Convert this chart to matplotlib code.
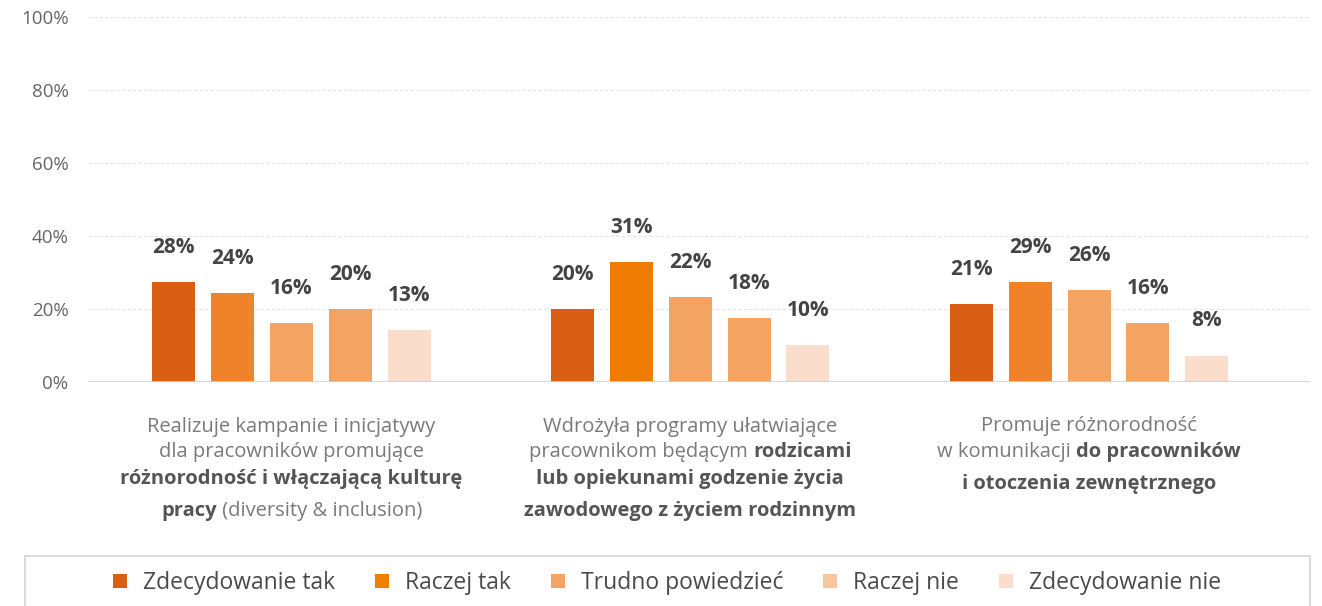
import numpy as np
import matplotlib
matplotlib.use('Agg')
import matplotlib.pyplot as plt
from matplotlib.patches import Patch, Rectangle

matplotlib.rcParams['font.family'] = ['Open Sans', 'DejaVu Sans']

series = ['Zdecydowanie tak', 'Raczej tak', 'Trudno powiedzieć', 'Raczej nie', 'Zdecydowanie nie']
legend_colors = ['#DA5F15', '#F07F00', '#F3A462', '#F9C59F', '#FBDDCB']
bar_colors = ['#DA5F15', '#F0822A', '#F3A462', '#F3A462', '#FADDCB']

# bar heights as drawn (%), one row per group
heights = [
    [27.4, 24.4, 16.2, 20.0, 14.2],
    [20.0, 32.9, 23.3, 17.6, 10.2],
    [21.4, 27.4, 25.2, 16.2, 7.2],
]
# printed labels
labels = [
    [28, 24, 16, 20, 13],
    [20, 31, 22, 18, 10],
    [21, 29, 26, 16, 8],
]
# group 2 second bar is a deeper orange
color_override = {(1, 1): '#EF7B00'}

# category descriptions: list of lines, each line a list of (text, bold)
categories = [
    [[('Realizuje kampanie i inicjatywy', False)],
     [('dla pracowników promujące', False)],
     [('różnorodność i włączającą kulturę', True)],
     [('pracy', True), (' (diversity & inclusion)', False)]],
    [[('Wdrożyła programy ułatwiające', False)],
     [('pracownikom będącym ', False), ('rodzicami', True)],
     [('lub opiekunami godzenie życia', True)],
     [('zawodowego z życiem rodzinnym', True)]],
    [[('Promuje różnorodność', False)],
     [('w komunikacji ', False), ('do pracowników', True)],
     [('i otoczenia zewnętrznego', True)]],
]
line_y = [[427, 452, 479, 511], [427, 452, 479, 511], [426, 452, 484]]

yticks = [0, 20, 40, 60, 80, 100]

W, H = 1322, 606
fig = plt.figure(figsize=(W / 100, H / 100), dpi=100)
ax = fig.add_axes([88 / W, 1 - 382 / H, (1310 - 88) / W, (382 - 17) / H])

width = 0.108
step = 0.1475
x = np.arange(len(heights))
for g in range(len(heights)):
    for i in range(len(series)):
        xi = x[g] + (i - 2) * step
        c = color_override.get((g, i), bar_colors[i])
        ax.bar(xi, heights[g][i], width, color=c, zorder=2)
        ax.annotate('%d%%' % labels[g][i], (xi, heights[g][i]), xytext=(0, 25),
                    textcoords='offset points', ha='center', va='center',
                    fontsize=15, fontweight='bold', color='#444444')

ax.set_xlim(-0.51, 2.554)
ax.set_ylim(0, 100)
ax.set_yticks(yticks)
ax.set_yticklabels(['%d%%' % t for t in yticks], fontsize=13.5, color='#666666')
ax.tick_params(axis='y', length=0, pad=14)
ax.set_xticks([])
for s in ax.spines.values():
    s.set_visible(False)
ax.yaxis.grid(True, color='#E2E2E2', linestyle=(0, (3, 2)), linewidth=0.8, zorder=0)
ax.axhline(0, color='#D0D0D0', linewidth=1.2, zorder=3)

# category descriptions with mixed weights
fig.canvas.draw()
r = fig.canvas.get_renderer()
for g, lines in enumerate(categories):
    cx = ax.transData.transform((x[g], 0))[0]
    for li, segs in enumerate(lines):
        ypx = H - line_y[g][li]
        texts = []
        for txt, bold in segs:
            t = fig.text(0, ypx / H, txt, fontsize=14.5, va='center', ha='left',
                         fontweight='bold' if bold else 'normal',
                         color='#555555' if bold else '#7A7A7A')
            texts.append(t)
        widths = [t.get_window_extent(r).width for t in texts]
        start = cx - sum(widths) / 2
        for t, w in zip(texts, widths):
            t.set_x(start / W)
            start += w

# legend box running off the bottom edge
fig.patches.append(Rectangle((25 / W, -0.05), (1310 - 25) / W, (606 - 556) / H + 0.05,
                             transform=fig.transFigure, facecolor='white',
                             edgecolor='#D6D6D6', linewidth=1.2))
handles = [Patch(facecolor=c, edgecolor='none') for c in legend_colors]
fig.legend(handles, series, loc='center', bbox_to_anchor=(667 / W, 1 - 583 / H),
           ncol=5, frameon=False, handlelength=0.6, handleheight=0.6,
           handletextpad=0.7, columnspacing=1.75, labelcolor='#4A4A4A',
           prop={'size': 16.5})

fig.savefig('out.png', dpi=100)
